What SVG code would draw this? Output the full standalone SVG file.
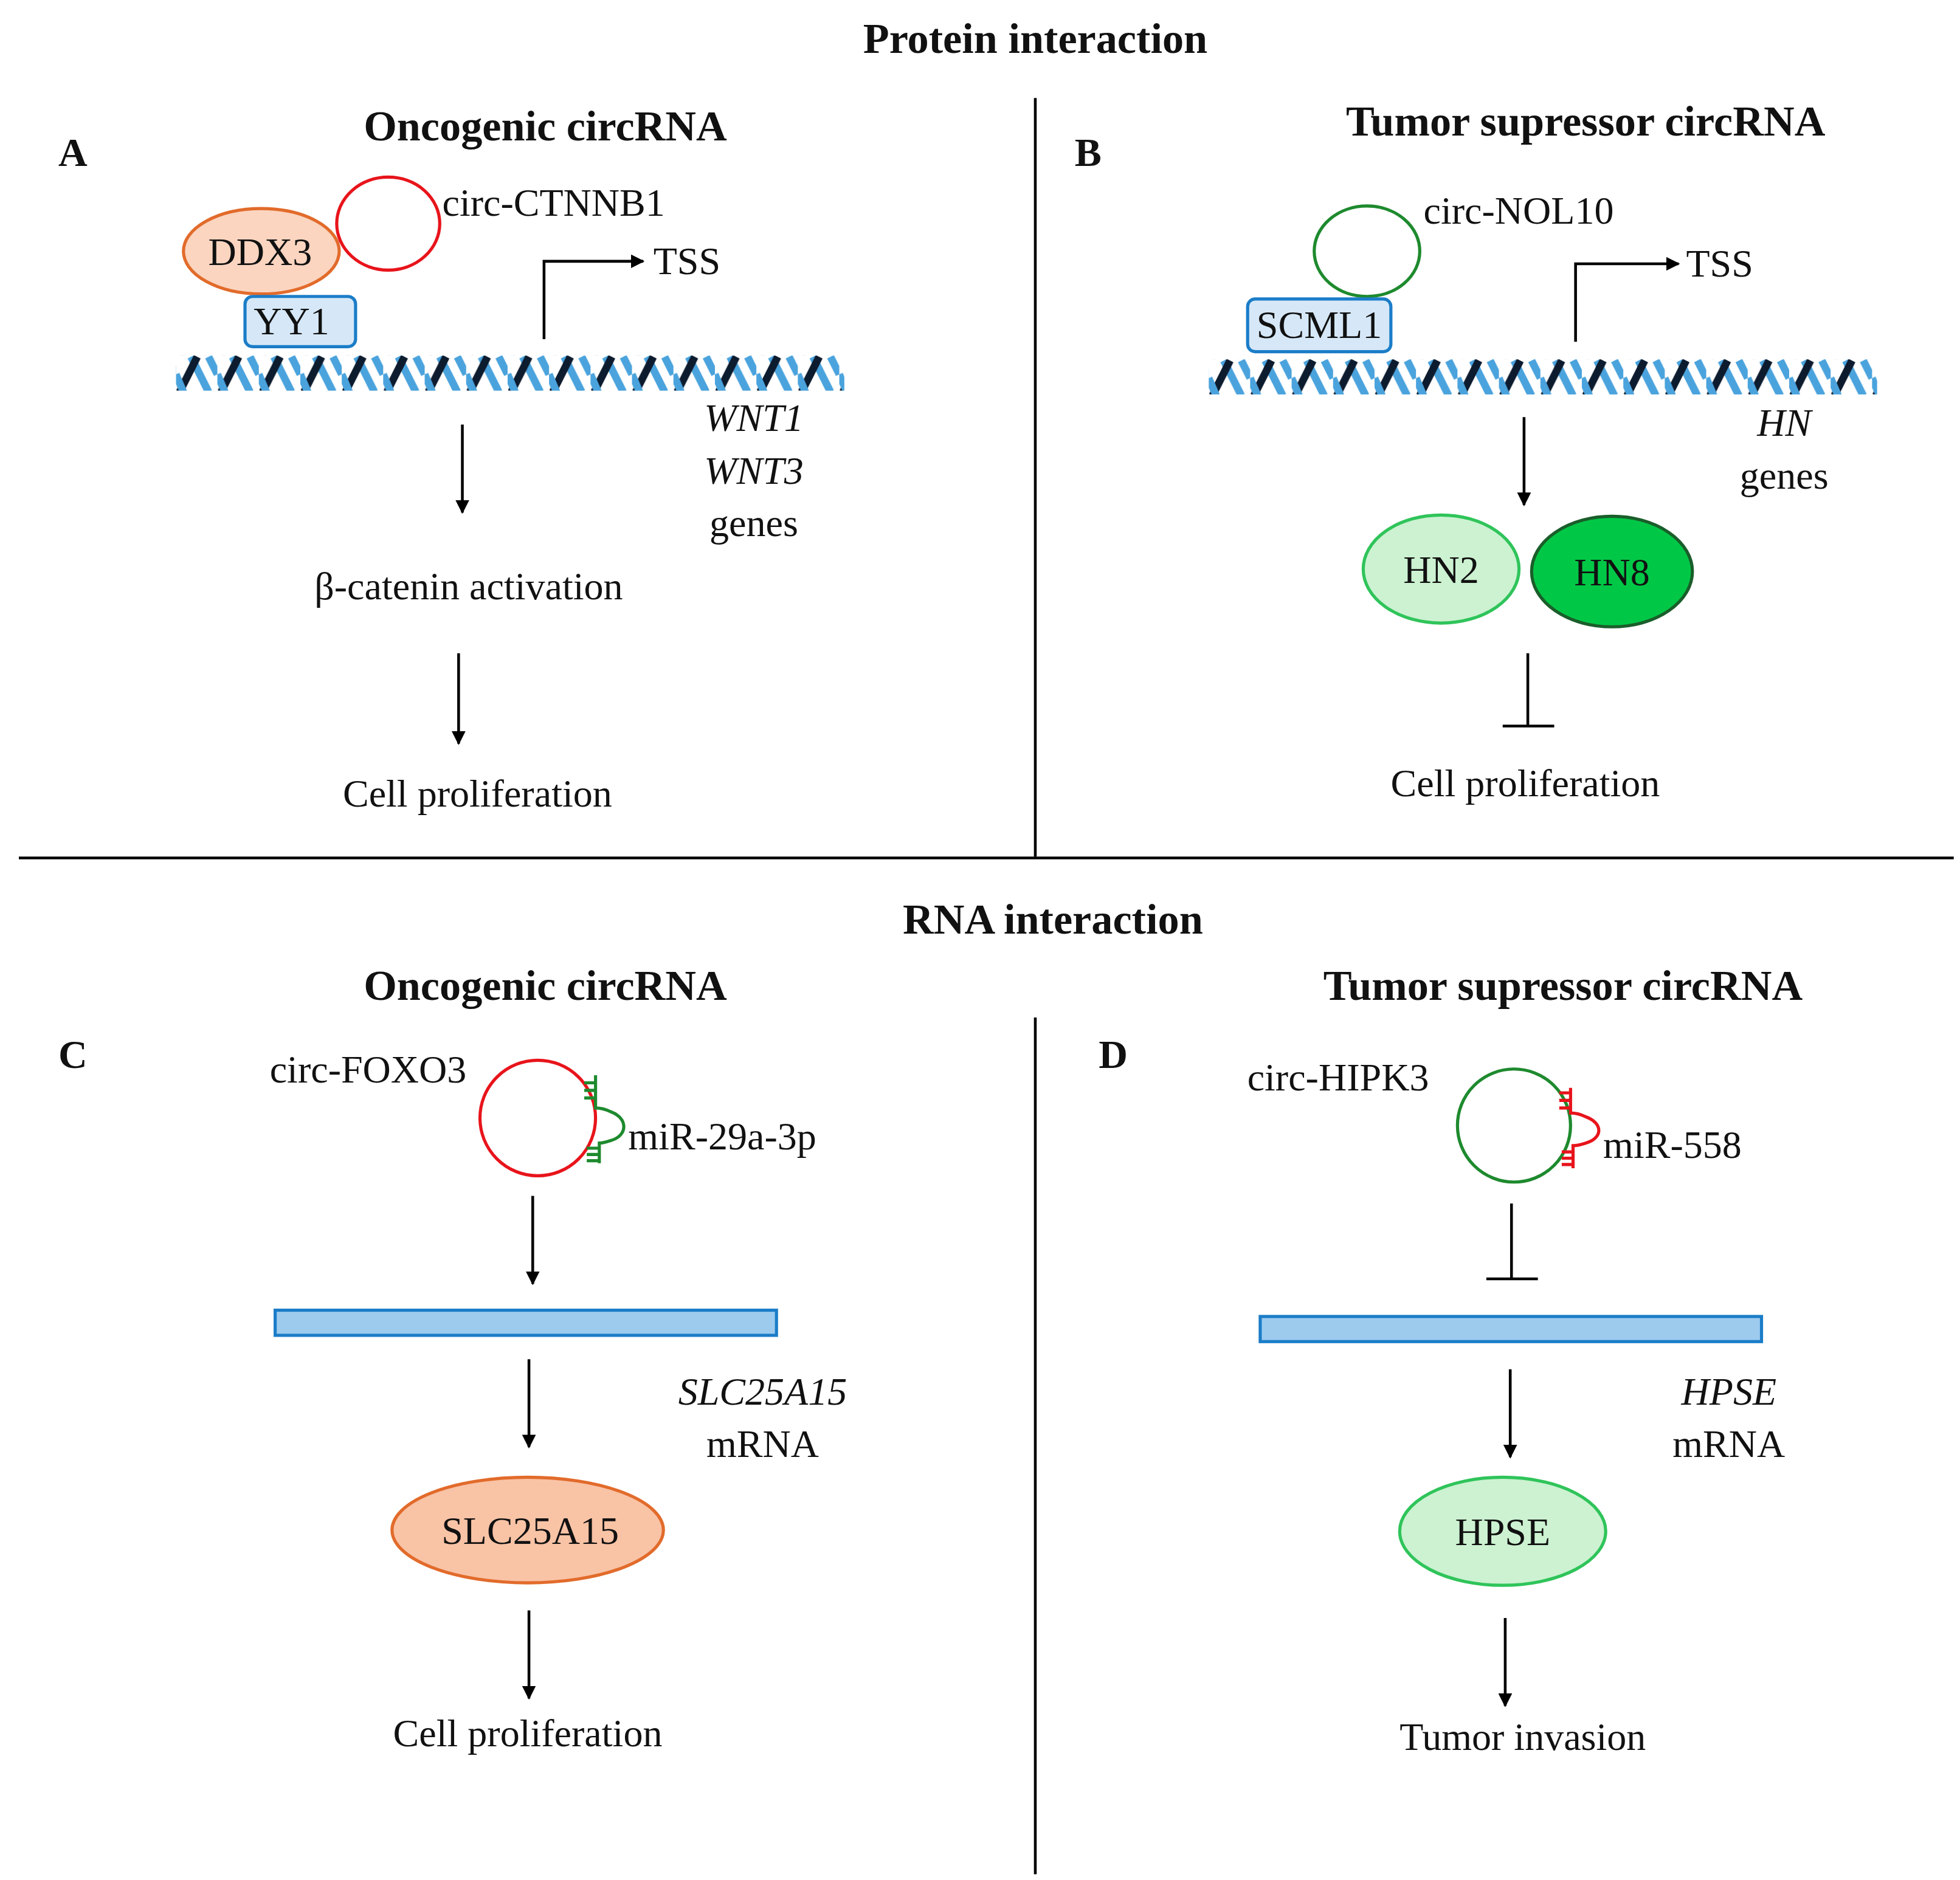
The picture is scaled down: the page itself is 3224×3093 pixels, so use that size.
<svg xmlns="http://www.w3.org/2000/svg" width="3224" height="3093" viewBox="0 0 3224 3093">
<style>
text{font-family:"Liberation Serif","DejaVu Serif",serif;fill:#111;font-size:31px}
.t{font-weight:bold;font-size:34px;text-anchor:middle}
.l{font-weight:bold;font-size:32px;text-anchor:middle}
.m{text-anchor:middle}
.i{font-style:italic;text-anchor:middle}
.ln{stroke:#000;stroke-width:2.2;fill:none}
.ar{stroke:#000;stroke-width:2.2;fill:none;marker-end:url(#ah)}
.mg{fill:none;stroke:#1e8a2e;stroke-width:2.5}
.mr{fill:none;stroke:#e8141b;stroke-width:2.5}
</style>
<defs>
<marker id="ah" viewBox="0 0 10 10" refX="9" refY="5" markerWidth="5" markerHeight="5" orient="auto"><path d="M0 0L10 5L0 10z" fill="#000"/></marker>
<pattern id="dna" patternUnits="userSpaceOnUse" width="33" height="30" x="140" y="283">
<path d="M12 1L26 29" stroke="#4aa3dd" stroke-width="6"/>
<path d="M3 29L17 1" stroke="#0d1b2e" stroke-width="6"/>
<path d="M26 1L33 15" stroke="#4aa3dd" stroke-width="6"/>
<path d="M0 15L6 29" stroke="#4aa3dd" stroke-width="6"/>
</pattern>
<pattern id="dna2" patternUnits="userSpaceOnUse" width="33" height="30" x="962" y="286">
<path d="M12 1L26 29" stroke="#4aa3dd" stroke-width="6"/>
<path d="M3 29L17 1" stroke="#0d1b2e" stroke-width="6"/>
<path d="M26 1L33 15" stroke="#4aa3dd" stroke-width="6"/>
<path d="M0 15L6 29" stroke="#4aa3dd" stroke-width="6"/>
</pattern>
</defs>
<rect width="3224" height="3093" fill="#fff"/>
<g transform="scale(2.0667)">
<g id="frame">
<text class="t" x="824" y="42">Protein interaction</text>
<text class="t" x="838" y="743">RNA interaction</text>
<line class="ln" x1="824" y1="78" x2="824" y2="682"/>
<line class="ln" x1="15" y1="683" x2="1555" y2="683"/>
<line class="ln" x1="824" y1="810" x2="824" y2="1492"/>
</g>
<g id="panelA">
<text class="l" x="58" y="132">A</text>
<text class="t" x="434" y="112">Oncogenic circRNA</text>
<rect x="140" y="283" width="532" height="28" fill="url(#dna)"/>
<ellipse cx="208" cy="200" rx="62" ry="34" fill="#fbd5c0" stroke="#e26b2b" stroke-width="2.5"/>
<text class="m" x="207" y="211">DDX3</text>
<ellipse cx="309" cy="178" rx="41" ry="37" fill="none" stroke="#e8141b" stroke-width="2.5"/>
<text x="352" y="172">circ-CTNNB1</text>
<rect x="195" y="236" width="88" height="40" rx="6" fill="#d6e8f7" stroke="#1b7dc8" stroke-width="2.5"/>
<text class="m" x="232" y="266">YY1</text>
<path class="ar" d="M433 270V208H512"/>
<text x="520" y="218">TSS</text>
<text class="i" x="600" y="343">WNT1</text>
<text class="i" x="600" y="385">WNT3</text>
<text class="m" x="600" y="427">genes</text>
<line class="ar" x1="368" y1="338" x2="368" y2="408"/>
<text class="m" x="373" y="477">β-catenin activation</text>
<line class="ar" x1="365" y1="520" x2="365" y2="592"/>
<text class="m" x="380" y="642">Cell proliferation</text>
</g>
<g id="panelB">
<text class="l" x="866" y="132">B</text>
<text class="t" x="1262" y="108">Tumor supressor circRNA</text>
<rect x="962" y="286" width="532" height="28" fill="url(#dna2)"/>
<ellipse cx="1088" cy="200" rx="42" ry="36" fill="none" stroke="#1e8a2e" stroke-width="2.5"/>
<text x="1133" y="178">circ-NOL10</text>
<rect x="993" y="238" width="114" height="42" rx="6" fill="#d6e8f7" stroke="#1b7dc8" stroke-width="2.5"/>
<text class="m" x="1050" y="269">SCML1</text>
<path class="ar" d="M1254 272V210H1336"/>
<text x="1342" y="220">TSS</text>
<text class="i" x="1420" y="347">HN</text>
<text class="m" x="1420" y="389">genes</text>
<line class="ar" x1="1213" y1="332" x2="1213" y2="402"/>
<ellipse cx="1147" cy="453" rx="62" ry="43" fill="#ccf2d1" stroke="#2fc45a" stroke-width="2.5"/>
<text class="m" x="1147" y="464">HN2</text>
<ellipse cx="1283" cy="455" rx="64" ry="44" fill="#00c846" stroke="#1a5e2a" stroke-width="2.5"/>
<text class="m" x="1283" y="466">HN8</text>
<path class="ln" d="M1216 520V578M1196 578H1237"/>
<text class="m" x="1214" y="634">Cell proliferation</text>
</g>
<g id="panelC">
<text class="l" x="58" y="850">C</text>
<text class="t" x="434" y="796">Oncogenic circRNA</text>
<text class="m" x="293" y="862">circ-FOXO3</text>
<ellipse cx="428" cy="890" rx="46" ry="46" fill="none" stroke="#e8141b" stroke-width="2.5"/>
<path class="mg" d="M474 856V882Q480 882 486 885C500 890 500 904 486 908Q480 910 477 910V926M465 862H474M465 868H474M465 874H474M467 914H477M467 919H477M467 924H477"/>
<text x="500" y="915">miR-29a-3p</text>
<line class="ar" x1="424" y1="952" x2="424" y2="1022"/>
<rect x="219" y="1043" width="399" height="20" fill="#9dcbee" stroke="#1b7dc8" stroke-width="2.5"/>
<text class="i" x="607" y="1118">SLC25A15</text>
<text class="m" x="607" y="1160">mRNA</text>
<line class="ar" x1="421" y1="1082" x2="421" y2="1152"/>
<ellipse cx="420" cy="1218" rx="108" ry="42" fill="#f9c3a6" stroke="#e26b2b" stroke-width="2.5"/>
<text class="m" x="422" y="1229">SLC25A15</text>
<line class="ar" x1="421" y1="1282" x2="421" y2="1352"/>
<text class="m" x="420" y="1390">Cell proliferation</text>
</g>
<g id="panelD">
<text class="l" x="886" y="850">D</text>
<text class="t" x="1244" y="796">Tumor supressor circRNA</text>
<text class="m" x="1065" y="868">circ-HIPK3</text>
<ellipse cx="1205" cy="896" rx="45" ry="45" fill="none" stroke="#1e8a2e" stroke-width="2.5"/>
<path class="mr" d="M1250 866V886Q1256 886 1262 889C1276 894 1276 906 1262 910Q1256 912 1252 912V930M1241 870H1250M1241 876H1250M1241 882H1250M1243 917H1252M1243 922H1252M1243 927H1252"/>
<text x="1276" y="922">miR-558</text>
<path class="ln" d="M1203 958V1018M1183 1018H1224"/>
<rect x="1003" y="1048" width="399" height="20" fill="#9dcbee" stroke="#1b7dc8" stroke-width="2.5"/>
<text class="i" x="1376" y="1118">HPSE</text>
<text class="m" x="1376" y="1160">mRNA</text>
<line class="ar" x1="1202" y1="1090" x2="1202" y2="1160"/>
<ellipse cx="1196" cy="1219" rx="82" ry="43" fill="#ccf2d1" stroke="#2fc45a" stroke-width="2.5"/>
<text class="m" x="1196" y="1230">HPSE</text>
<line class="ar" x1="1198" y1="1288" x2="1198" y2="1358"/>
<text class="m" x="1212" y="1393">Tumor invasion</text>
</g>
</g>
</svg>
